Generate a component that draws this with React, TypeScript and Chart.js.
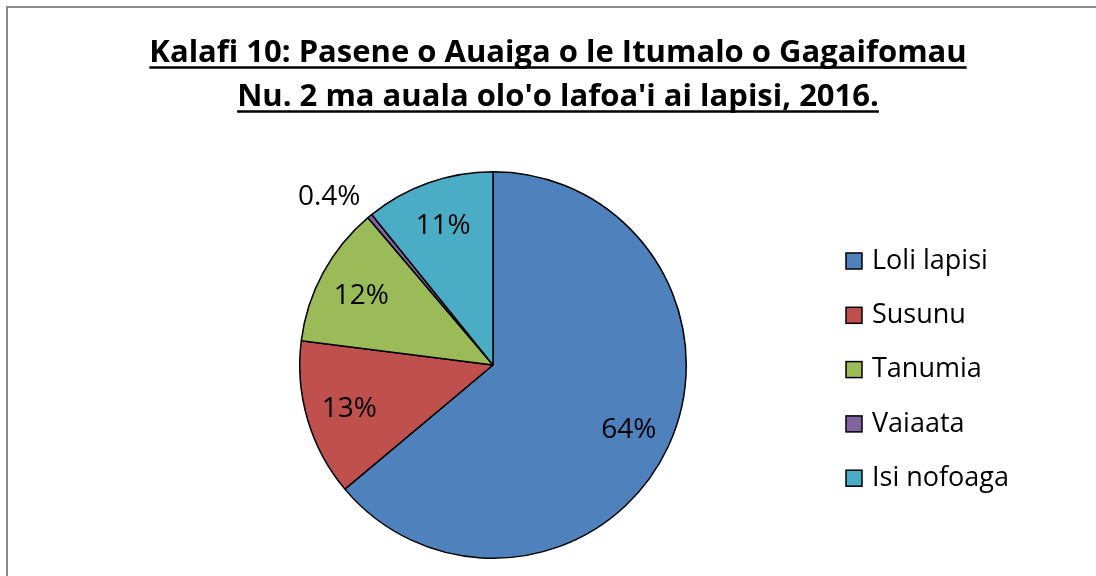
import React, { useEffect, useRef } from "react";
import { Chart, registerables } from "chart.js";

Chart.register(...registerables);

const titleLines = [
  "Kalafi 10: Pasene o Auaiga o le Itumalo o Gagaifomau",
  "Nu. 2 ma auala olo'o lafoa'i ai lapisi, 2016.",
];
const categories = ["Loli lapisi", "Susunu", "Tanumia", "Vaiaata", "Isi nofoaga"];
const percentValues = [63.9, 13.1, 11.8, 0.4, 10.8];
const percentLabels = ["64%", "13%", "12%", "0.4%", "11%"];
const sliceColors = ["#4F81BD", "#C0504D", "#9BBB59", "#8064A2", "#4BACC6"];

const FONT = "'Open Sans', sans-serif";

const overlayPlugin = {
  id: "overlay",
  afterDraw(chart: any) {
    const ctx = chart.ctx as CanvasRenderingContext2D;
    ctx.save();
    // title
    ctx.fillStyle = "#000";
    ctx.strokeStyle = "#000";
    ctx.font = `bold 31px ${FONT}`;
    ctx.textAlign = "center";
    ctx.textBaseline = "alphabetic";
    const cx = 558;
    const baselines = [62, 106];
    titleLines.forEach((t, i) => {
      ctx.fillText(t, cx, baselines[i]);
      const w = ctx.measureText(t).width;
      ctx.lineWidth = 2.5;
      ctx.beginPath();
      ctx.moveTo(cx - w / 2, baselines[i] + 5.5);
      ctx.lineTo(cx + w / 2, baselines[i] + 5.5);
      ctx.stroke();
    });

    // data labels
    const meta = chart.getDatasetMeta(0);
    ctx.font = `28px ${FONT}`;
    ctx.textBaseline = "middle";
    ctx.textAlign = "center";
    meta.data.forEach((arc: any, i: number) => {
      const p = arc.getProps(["x", "y", "startAngle", "endAngle", "outerRadius"], true);
      const mid = (p.startAngle + p.endAngle) / 2;
      if (i === 3) {
        const r = p.outerRadius * 1.2;
        ctx.fillText(percentLabels[i], p.x + Math.cos(mid) * r - 16, p.y + Math.sin(mid) * r + 11);
      } else {
        const r = p.outerRadius * 0.775;
        ctx.fillText(percentLabels[i], p.x + Math.cos(mid) * r, p.y + Math.sin(mid) * r + 2);
      }
    });

    // legend
    const lx = 846;
    const ly0 = 261;
    const step = 54.3;
    ctx.font = `27px ${FONT}`;
    ctx.textAlign = "left";
    categories.forEach((c, i) => {
      const y = ly0 + i * step;
      ctx.fillStyle = sliceColors[i];
      ctx.fillRect(lx, y - 8, 16, 16);
      ctx.lineWidth = 1.5;
      ctx.strokeStyle = "#000";
      ctx.strokeRect(lx, y - 8, 16, 16);
      ctx.fillStyle = "#000";
      ctx.fillText(c, lx + 26, y);
    });
    ctx.restore();
  },
};

export default function App() {
  const ref = useRef<HTMLCanvasElement | null>(null);
  useEffect(() => {
    if (!ref.current) return;
    const chart = new Chart(ref.current, {
      type: "pie",
      data: {
        labels: categories,
        datasets: [
          {
            data: percentValues,
            backgroundColor: sliceColors,
            borderColor: "#000",
            borderWidth: 1.5,
          },
        ],
      },
      options: {
        animation: false,
        responsive: false,
        maintainAspectRatio: false,
        layout: { padding: { left: 299, right: 409, top: 171, bottom: 17 } },
        plugins: {
          legend: { display: false },
          title: { display: false },
          tooltip: { enabled: false },
        },
      },
      plugins: [overlayPlugin],
    });
    return () => chart.destroy();
  }, []);
  return (
    <div style={{ position: "absolute", left: 0, top: 0, width: 1096, height: 576, background: "#fff", overflow: "hidden" }}>
      <div
        style={{
          position: "absolute",
          left: 6,
          top: 6,
          width: 1200,
          height: 700,
          borderLeft: "2px solid #8a8a8a",
          borderTop: "2px solid #8a8a8a",
          boxSizing: "border-box",
        }}
      />
      <canvas ref={ref} width={1096} height={576} style={{ position: "absolute", left: 0, top: 0 }} />
    </div>
  );
}
